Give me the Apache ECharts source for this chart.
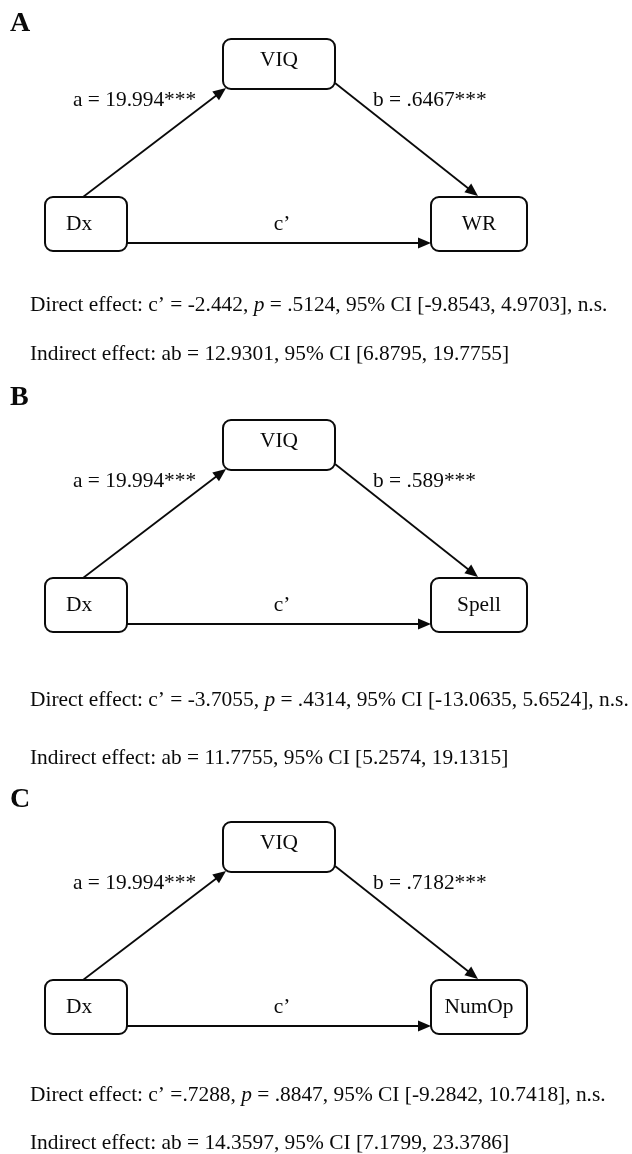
<!DOCTYPE html>
<html><head><meta charset="utf-8">
<script src="https://cdn.jsdelivr.net/npm/echarts@6/dist/echarts.min.js"></script>
<style>html,body{margin:0;padding:0;background:#fff}#c{width:632px;height:1154px}</style>
</head><body><div id="c"></div>
<script>
// ---- data ----
const panels = ['A', 'B', 'C'];
const predictor = 'Dx';
const mediator = 'VIQ';
const outcomes = ['WR', 'Spell', 'NumOp'];
const aPath = ['19.994***', '19.994***', '19.994***'];
const bPath = ['.6467***', '.589***', '.7182***'];
const directC = ['= -2.442', '= -3.7055', '=.7288'];
const directP = ['.5124', '.4314', '.8847'];
const directCI = ['[-9.8543, 4.9703]', '[-13.0635, 5.6524]', '[-9.2842, 10.7418]'];
const directSig = ['n.s.', 'n.s.', 'n.s.'];
const indirectAB = ['12.9301', '11.7755', '14.3597'];
const indirectCI = ['[6.8795, 19.7755]', '[5.2574, 19.1315]', '[7.1799, 23.3786]'];

// ---- layout (diagram units, one unit per pixel) ----
const L = {
  W: 632, H: 1154,
  panelTop: [0, 381, 783],
  letterX: 10, letterY: [24, 398, 800],
  textX: 30, directY: [305, 700, 1095], indirectY: [354, 758, 1143],
  pred: { b: [45, 127, 197, 251], tx: 79, ty: 224 },
  med:  { b: [223, 335, 39, 89], tx: 279, ty: 60 },
  out:  { b: [431, 527, 197, 251], tx: 479, ty: 224 },
  aEdge: [[83, 197], [226, 88]],
  bEdge: [[335, 83], [478, 196]],
  cEdge: [[127, 243], [431, 243]],
  aLab: [73, 100], bLab: [373, 100], cLab: [282, 224]
};
const FONT = '"Liberation Serif", "Times New Roman", serif';
const F = '21.4px ' + FONT;
const FI = 'italic 21.4px ' + FONT;

function txt(p, s, align, extra) {
  return {
    type: 'text', x: p[0], y: p[1],
    style: Object.assign({ text: s, font: F, fill: '#0a0a0a', align: align || 'center', verticalAlign: 'middle',
      textAlign: align || 'center', textVerticalAlign: 'middle' }, extra || {})
  };
}

function renderPanel(params, api) {
  const i = api.value(0);
  const oy = L.panelTop[i];
  const c = (x, y) => api.coord([x, y + oy]);
  const ca = (x, y) => api.coord([x, y]);
  const children = [];
  const box = (def, label) => {
    const p0 = c(def.b[0], def.b[2]);
    const p1 = c(def.b[1], def.b[3]);
    children.push({ type: 'rect', shape: { x: p0[0], y: p0[1], width: p1[0] - p0[0], height: p1[1] - p0[1], r: 8 },
      style: { fill: '#fff', stroke: '#0a0a0a', lineWidth: 2 } });
    children.push(txt(c(def.tx, def.ty), label));
  };
  const arrow = (e, lw) => {
    const s = c(e[0][0], e[0][1]);
    const t = c(e[1][0], e[1][1]);
    const dx = t[0] - s[0], dy = t[1] - s[1];
    const len = Math.sqrt(dx * dx + dy * dy);
    const ux = dx / len, uy = dy / len;
    const hl = 13, hw = 5.5;
    const bx = t[0] - ux * hl, by = t[1] - uy * hl;
    children.push({ type: 'line', shape: { x1: s[0], y1: s[1], x2: bx + ux * 2, y2: by + uy * 2 },
      style: { stroke: '#0a0a0a', lineWidth: lw } });
    children.push({ type: 'polygon', shape: { points: [t, [bx - uy * hw, by + ux * hw], [bx + uy * hw, by - ux * hw]] },
      style: { fill: '#0a0a0a' } });
  };
  arrow(L.aEdge, 1.8); arrow(L.bEdge, 1.8); arrow(L.cEdge, 2);
  box(L.pred, predictor); box(L.med, mediator); box(L.out, outcomes[i]);
  children.push(txt(c(L.aLab[0], L.aLab[1]), 'a = ' + aPath[i], 'left'));
  children.push(txt(c(L.bLab[0], L.bLab[1]), 'b = ' + bPath[i], 'left'));
  children.push(txt(c(L.cLab[0], L.cLab[1]), 'c\u2019'));
  children.push(txt(ca(L.letterX, L.letterY[i]), panels[i], 'left', { font: 'bold 28px ' + FONT }));
  children.push(txt(ca(L.textX, L.directY[i]),
    'Direct effect: c\u2019 ' + directC[i] + ', {i|p} = ' + directP[i] + ', 95% CI ' + directCI[i] + ', ' + directSig[i],
    'left', { rich: { i: { font: FI, fontStyle: 'italic', fontSize: 21.4, fontFamily: FONT, fill: '#0a0a0a' } } }));
  children.push(txt(ca(L.textX, L.indirectY[i]),
    'Indirect effect: ab = ' + indirectAB[i] + ', 95% CI ' + indirectCI[i], 'left'));
  return { type: 'group', children: children };
}

const chart = echarts.init(document.getElementById('c'), null, { renderer: 'canvas' });
chart.setOption({
  animation: false,
  backgroundColor: '#fff',
  grid: { left: 0, right: 0, top: 0, bottom: 0 },
  xAxis: { type: 'value', min: 0, max: L.W, show: false },
  yAxis: { type: 'value', min: 0, max: L.H, inverse: true, show: false },
  series: [{
    type: 'custom',
    coordinateSystem: 'cartesian2d',
    clip: false,
    renderItem: renderPanel,
    encode: { x: 0, y: 1 },
    data: panels.map((p, i) => [i, i])
  }]
});
</script></body></html>
